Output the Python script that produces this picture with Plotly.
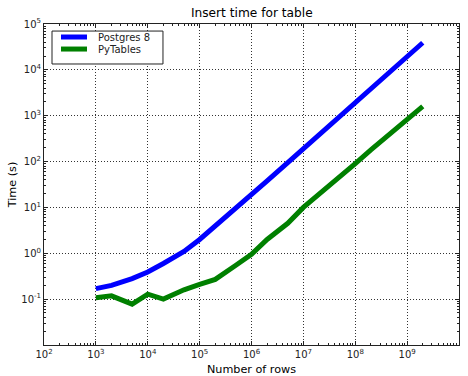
import plotly.graph_objects as go

rows = [1e3, 2e3, 5e3, 1e4, 2e4, 5e4, 1e5, 2e5, 5e5, 1e6, 2e6, 5e6,
        1e7, 2e7, 5e7, 1e8, 2e8, 5e8, 1e9, 2e9]
postgres = [0.17, 0.20, 0.28, 0.39, 0.6, 1.1, 2.0, 3.9, 9.5, 18, 38, 95,
            190, 380, 950, 1900, 3800, 9500, 19000, 39000]
pytables = [0.107, 0.118, 0.078, 0.128, 0.10, 0.16, 0.21, 0.27, 0.55, 0.95, 2.0, 4.5,
            10, 19, 45, 90, 180, 420, 800, 1600]
series_names = ["Postgres 8", "PyTables"]
series_colors = ["#0000ff", "#008000"]

x_exps = list(range(2, 11))
y_exps = list(range(-2, 6))

font = "DejaVu Sans"


def minor_vals(exps):
    return [m * 10 ** e for e in exps[:-1] for m in range(2, 10)]


fig = go.Figure()
for name, vals, color in zip(series_names, [postgres, pytables], series_colors):
    fig.add_trace(go.Scatter(x=rows, y=vals, mode="lines", name=name,
                             line=dict(color=color, width=5), showlegend=False))

axis_common = dict(
    type="log", showline=True, linecolor="#222", linewidth=1, mirror="allticks",
    ticks="inside", ticklen=4, tickcolor="#222", automargin=False,
    showgrid=True, gridcolor="#333", griddash="1px,2px", gridwidth=1,
    zeroline=False, tickfont=dict(family=font, size=10, color="#222"),
)

fig.update_xaxes(**axis_common, range=[2, 10],
                 tickvals=[10 ** e for e in x_exps],
                 ticktext=[f"10<sup>{e}</sup>" for e in x_exps],
                 minor=dict(tickvals=minor_vals(x_exps), ticks="inside", ticklen=2,
                            tickcolor="#222", showgrid=False),
                 title=dict(text="Number of rows", font=dict(family=font, size=11.2, color="black"), standoff=6))
fig.update_yaxes(**axis_common, range=[-2, 5],
                 tickvals=[10 ** e for e in y_exps],
                 ticktext=["" if e == -2 else f"10<sup>{e}</sup>" for e in y_exps],
                 minor=dict(tickvals=minor_vals(y_exps), ticks="inside", ticklen=2,
                            tickcolor="#222", showgrid=False),
                 title=dict(text="Time (s)", font=dict(family=font, size=11.2, color="black"), standoff=2))

# Compact matplotlib-style legend box (paper coordinates of the plot area)
fig.add_shape(type="rect", xref="paper", yref="paper", x0=0.0193, x1=0.2867, y0=0.8754, y1=0.978,
              line=dict(color="#222", width=1), fillcolor="white", layer="above")
legend_y = [0.9595, 0.922]
for name, color, ly in zip(series_names, series_colors, legend_y):
    fig.add_shape(type="line", xref="paper", yref="paper", x0=0.041, x1=0.1036, y0=ly, y1=ly,
                  line=dict(color=color, width=5), layer="above")
    fig.add_annotation(text=name, xref="paper", yref="paper", x=0.1253, y=ly,
                       xanchor="left", yanchor="middle", showarrow=False,
                       font=dict(family=font, size=10, color="#222"))

fig.update_layout(
    width=468, height=376,
    margin=dict(l=44, r=9, t=24, b=31),
    paper_bgcolor="white", plot_bgcolor="white",
    title=dict(text="Insert time for table", x=0.538, xanchor="center", y=0.967, yanchor="middle",
               font=dict(family=font, size=12.2, color="black")),
    showlegend=False,
)

fig.write_html("out.html", config={"displayModeBar": False},
               post_script="document.body.style.margin='0';")
